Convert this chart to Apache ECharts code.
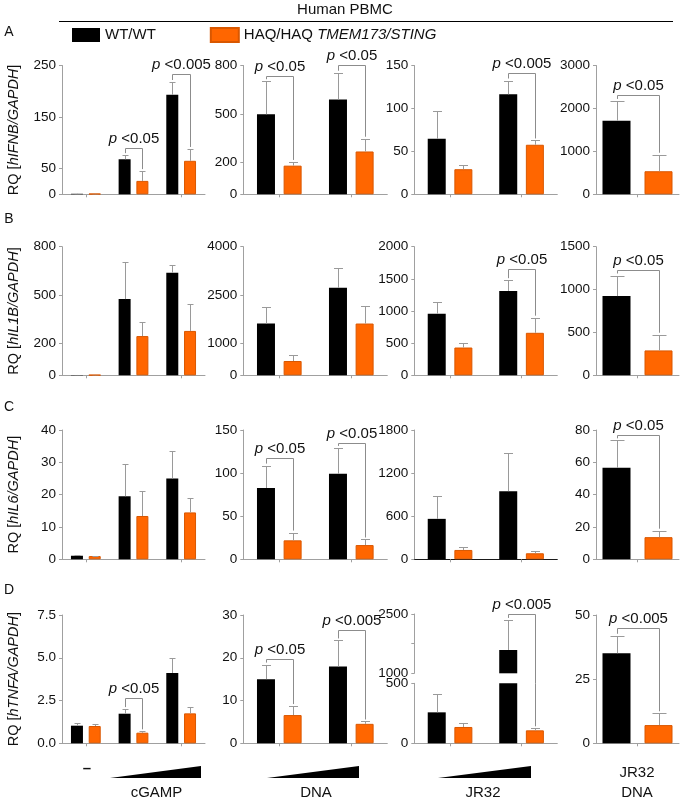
<!DOCTYPE html>
<html><head><meta charset="utf-8">
<script src="https://cdn.jsdelivr.net/npm/echarts@6/dist/echarts.min.js"></script>
<style>html,body{margin:0;padding:0;background:#fff}#c{width:682px;height:800px}</style>
</head><body><div id="c"></div>
<script>
// ================= DATA =================
const seriesNames = ['WT/WT', 'HAQ/HAQ TMEM173/STING'];
const catsCGAMP = ['–', 'cGAMP low', 'cGAMP high'];
const catsDNA = ['DNA low', 'DNA high'];
const catsJR32 = ['JR32 low', 'JR32 high'];
const catsJR32DNA = ['JR32 DNA'];
const rowGenes = ['hIFNB', 'hIL1B', 'hIL6', 'hTNFA'];
const rowLetters = ['A', 'B', 'C', 'D'];
const stimulusLabels = ['cGAMP', 'DNA', 'JR32'];
const comboLabel = ['JR32', 'DNA'];

// Row A – hIFNB
const A1wt = [1, 68, 193], A1wtE = [0.4, 8, 25], A1haq = [1, 26, 65], A1haqE = [0.4, 19, 23];
const A1sig = [[1, 89, '<0.05'], [2, 234, '<0.005']];
const A1ticks = [0, 50, 150, 250];
const A2wt = [497, 589], A2wtE = [205, 166], A2haq = [178, 266], A2haqE = [23, 79];
const A2sig = [[0, 734, '<0.05'], [1, 806, '<0.05']];
const A2ticks = [0, 200, 500, 800];
const A3wt = [64.6, 116.5], A3wtE = [32, 16], A3haq = [29.2, 57.7], A3haqE = [5.5, 5];
const A3sig = [[1, 141, '<0.005']];
const A3ticks = [0, 50, 100, 150];
const A4wt = [1715], A4wtE = [460], A4haq = [537], A4haqE = [384];
const A4sig = [[0, 2305, '<0.05']];
const A4ticks = [0, 1000, 2000, 3000];

// Row B – hIL1B
const B1wt = [2, 474, 638], B1wtE = [0, 229, 46], B1haq = [2, 244, 276], B1haqE = [0, 86, 165];
const B1sig = [];
const B1ticks = [0, 200, 500, 800];
const B2wt = [1610, 2720], B2wtE = [500, 630], B2haq = [445, 1610], B2haqE = [186, 550];
const B2sig = [];
const B2ticks = [0, 1000, 2500, 4000];
const B3wt = [958, 1312], B3wtE = [177, 167], B3haq = [432, 661], B3haqE = [78, 235];
const B3sig = [[1, 1656, '<0.05']];
const B3ticks = [0, 500, 1000, 1500, 2000];
const B4wt = [924], B4wtE = [240], B4haq = [290], B4haqE = [183];
const B4sig = [[0, 1233, '<0.05']];
const B4ticks = [0, 500, 1000, 1500];

// Row C – hIL6
const C1wt = [1.1, 19.5, 25.0], C1wtE = [0.15, 10, 8.4], C1haq = [1.0, 13.4, 14.5], C1haqE = [0.15, 7.8, 4.4];
const C1sig = [];
const C1ticks = [0, 10, 20, 30, 40];
const C2wt = [82.7, 99.2], C2wtE = [26, 30], C2haq = [22, 16.5], C2haqE = [9, 6.5];
const C2sig = [[0, 118, '<0.05'], [1, 135, '<0.05']];
const C2ticks = [0, 50, 100, 150];
const C3wt = [563, 949], C3wtE = [316, 535], C3haq = [130, 84], C3haqE = [47, 28];
const C3sig = [];
const C3ticks = [0, 600, 1200, 1800];
const C4wt = [56.6], C4wtE = [17], C4haq = [13.7], C4haqE = [4];
const C4sig = [[0, 76.8, '<0.05']];
const C4ticks = [0, 20, 40, 60, 80];

// Row D – hTNFA
const D1wt = [1.03, 1.73, 4.11], D1wtE = [0.14, 0.27, 0.88], D1haq = [1.01, 0.62, 1.75], D1haqE = [0.1, 0.08, 0.35];
const D1sig = [[1, 2.67, '<0.05']];
const D1ticks = [0, 2.5, 5, 7.5];
const D2wt = [15.0, 17.95], D2wtE = [3.4, 6.1], D2haq = [6.6, 4.55], D2haqE = [2.1, 0.55];
const D2sig = [[0, 19.8, '<0.05'], [1, 26.4, '<0.005']];
const D2ticks = [0, 10, 20, 30];
const D3wt = [258, 1590], D3wtE = [155, 760], D3haq = [136, 108], D3haqE = [33, 17];
const D3sig = [[1, 2510, '<0.005']];
const D3lowTicks = [0, 500];
const D3upTicks = [1000, 1750, 2500];
const D3upLabels = [1000, 2500];
const D4wt = [35.1], D4wtE = [6.8], D4haq = [7.1], D4haqE = [4.6];
const D4sig = [[0, 44.8, '<0.005']];
const D4ticks = [0, 25, 50];

// ================= LAYOUT / STYLE =================
const F = '"Liberation Sans", Arial, Helvetica, sans-serif';
const ORANGE = '#ff6600', ORANGE_B = '#d95700';
const AX = '#a0a0a0', ERR = '#9a9a9a', BR = '#8c8c8c', TXT = '#111';
const ROW_TOP = [65.5, 246.7, 430, 615];
const ROW_H = [128.8, 128.6, 129.3, 128.3];
const COL_LEFT = [62, 243.3, 414.3, 596];
const COL_W = [143, 144, 143, 83];
const BAR_W = [12, 18, 18, 28];
const BAR_GAP = [0.48, 0.48, 0.48, 0.5];
const BREAK_GAP = 10;
const UP_H = 59.3, LOW_H = 60;

function P(r, c, cats, wt, wtE, haq, haqE, sig, ticks, extra) {
  return Object.assign({ r, c, cats, wt, wtE, haq, haqE, sig, ticks }, extra || {});
}
const panels = [
  P(0, 0, catsCGAMP, A1wt, A1wtE, A1haq, A1haqE, A1sig, A1ticks),
  P(0, 1, catsDNA, A2wt, A2wtE, A2haq, A2haqE, A2sig, A2ticks),
  P(0, 2, catsJR32, A3wt, A3wtE, A3haq, A3haqE, A3sig, A3ticks),
  P(0, 3, catsJR32DNA, A4wt, A4wtE, A4haq, A4haqE, A4sig, A4ticks),
  P(1, 0, catsCGAMP, B1wt, B1wtE, B1haq, B1haqE, B1sig, B1ticks),
  P(1, 1, catsDNA, B2wt, B2wtE, B2haq, B2haqE, B2sig, B2ticks),
  P(1, 2, catsJR32, B3wt, B3wtE, B3haq, B3haqE, B3sig, B3ticks),
  P(1, 3, catsJR32DNA, B4wt, B4wtE, B4haq, B4haqE, B4sig, B4ticks),
  P(2, 0, catsCGAMP, C1wt, C1wtE, C1haq, C1haqE, C1sig, C1ticks),
  P(2, 1, catsDNA, C2wt, C2wtE, C2haq, C2haqE, C2sig, C2ticks),
  P(2, 2, catsJR32, C3wt, C3wtE, C3haq, C3haqE, C3sig, C3ticks, { darkX: true }),
  P(2, 3, catsJR32DNA, C4wt, C4wtE, C4haq, C4haqE, C4sig, C4ticks),
  P(3, 0, catsCGAMP, D1wt, D1wtE, D1haq, D1haqE, D1sig, D1ticks, { fmt: v => v.toFixed(1) }),
  P(3, 1, catsDNA, D2wt, D2wtE, D2haq, D2haqE, D2sig, D2ticks),
  P(3, 2, catsJR32, D3wt, D3wtE, D3haq, D3haqE, D3sig, D3upTicks, { part: 'upper', labels: D3upLabels }),
  P(3, 2, catsJR32, D3wt, D3wtE, D3haq, D3haqE, D3sig, D3lowTicks, { part: 'lower' }),
  P(3, 3, catsJR32DNA, D4wt, D4wtE, D4haq, D4haqE, D4sig, D4ticks)
];

function lineEl(x1, y1, x2, y2, color) {
  return { type: 'line', shape: { x1, y1, x2, y2 }, style: { stroke: color, lineWidth: 1 } };
}
const crisp = v => Math.round(v) + 0.5;

function errRender(p) {
  const off = BAR_W[p.c] * (1 + BAR_GAP[p.c]) / 2, cap = BAR_W[p.c] / 2;
  return function (params, api) {
    const cat = api.value(0), m = api.value(1), e = api.value(2), side = api.value(3);
    const x = crisp(api.coord([cat, m])[0] + (side ? off : -off));
    const y1 = api.coord([cat, m])[1], y2 = crisp(api.coord([cat, m + e])[1]);
    return { type: 'group', children: [
      lineEl(x, y1, x, y2, ERR),
      lineEl(x - cap / 2, y2, x + cap / 2, y2, ERR)
    ] };
  };
}

function sigRender(p) {
  const off = BAR_W[p.c] * (1 + BAR_GAP[p.c]) / 2;
  const minV = p.ticks[0], maxV = p.ticks[p.ticks.length - 1];
  return function (params, api) {
    const cat = api.value(0), lev = api.value(1), lEnd = api.value(2), rEnd = api.value(3);
    const c = api.coord([cat, lev]);
    const xl = crisp(c[0] - off), xr = crisp(c[0] + off), yl = crisp(c[1]);
    const endY = v => api.coord([cat, v])[1] - 2;
    const ch = [];
    if (p.part === 'lower') {
      const topY = api.coord([cat, maxV])[1];
      [[xl, lEnd], [xr, rEnd]].forEach(([x, v]) => { if (v < maxV) ch.push(lineEl(x, topY, x, endY(v), BR)); });
      return { type: 'group', children: ch };
    }
    const legEnd = v => (p.part === 'upper' && v < minV) ? api.coord([cat, minV])[1] + BREAK_GAP : endY(v);
    ch.push(lineEl(xl, yl, xr, yl, BR), lineEl(xl, yl, xl, legEnd(lEnd), BR), lineEl(xr, yl, xr, legEnd(rEnd), BR));
    const lab = p.sig[params.dataIndex][2];
    ch.push({ type: 'text', x: (xl + xr) / 2, y: yl - 2, style: {
      text: '{i|p}{n| ' + lab + '}', align: 'center', verticalAlign: 'bottom',
      fontSize: 15, fontFamily: F, fill: TXT,
      rich: { i: { fontStyle: 'italic', fontSize: 15, fontFamily: F, fill: TXT }, n: { fontSize: 15, fontFamily: F, fill: TXT } }
    } });
    return { type: 'group', children: ch };
  };
}

const grid = [], xAxis = [], yAxis = [], series = [];
panels.forEach((p, i) => {
  let top = ROW_TOP[p.r], h = ROW_H[p.r];
  if (p.part === 'upper') { top = ROW_TOP[3] - 1; h = UP_H; }
  if (p.part === 'lower') { top = ROW_TOP[3] + ROW_H[3] - LOW_H; h = LOW_H; }
  grid.push({ left: COL_LEFT[p.c], top, width: COL_W[p.c], height: h, containLabel: false, outerBoundsMode: 'none' });
  xAxis.push({
    type: 'category', gridIndex: i, data: p.cats, show: p.part !== 'upper',
    axisLine: { show: true, lineStyle: { color: p.darkX ? '#1a1a1a' : AX, width: 1 } },
    axisTick: { show: true, alignWithLabel: true, length: 3, lineStyle: { color: AX } },
    axisLabel: { show: false }, splitLine: { show: false }
  });
  yAxis.push({
    type: 'value', gridIndex: i, min: p.ticks[0], max: p.ticks[p.ticks.length - 1],
    axisLine: { show: true, lineStyle: { color: AX, width: 1 } },
    axisTick: { show: true, length: 3, customValues: p.ticks, lineStyle: { color: AX } },
    axisLabel: { show: true, customValues: p.labels || p.ticks, fontSize: 13.5, fontFamily: F, color: TXT, margin: 6,
      formatter: p.fmt || (v => String(v)) },
    splitLine: { show: false }
  });
  const common = { xAxisIndex: i, yAxisIndex: i, silent: true, animation: false };
  series.push(Object.assign({ type: 'bar', name: seriesNames[0], data: p.wt, barWidth: BAR_W[p.c],
    barGap: (BAR_GAP[p.c] * 100) + '%', itemStyle: { color: '#000' }, z: 2 }, common));
  series.push(Object.assign({ type: 'bar', name: seriesNames[1], data: p.haq, barWidth: BAR_W[p.c],
    barGap: (BAR_GAP[p.c] * 100) + '%', itemStyle: { color: ORANGE, borderColor: ORANGE_B, borderWidth: 1 }, z: 2 }, common));
  const errData = [];
  p.wt.forEach((v, k) => errData.push([k, v, p.wtE[k], 0]));
  p.haq.forEach((v, k) => errData.push([k, v, p.haqE[k], 1]));
  series.push(Object.assign({ type: 'custom', data: errData, clip: true, renderItem: errRender(p), z: 3 }, common));
  if (p.sig.length) {
    series.push(Object.assign({ type: 'custom', clip: false, z: 4,
      data: p.sig.map(s => [s[0], s[1], p.wt[s[0]] + p.wtE[s[0]], p.haq[s[0]] + p.haqE[s[0]]]),
      renderItem: sigRender(p) }, common));
  }
});

// ================= ANNOTATIONS =================
const txt = (x, y, text, extra) => ({ type: 'text', x, y, silent: true, style: Object.assign({
  text, fontSize: 15, fontFamily: F, fill: TXT, align: 'center', verticalAlign: 'middle' }, extra || {}) });
const graphic = [];
graphic.push(txt(345, 10, 'Human PBMC'));
graphic.push({ type: 'line', silent: true, shape: { x1: 59, y1: 21.5, x2: 673, y2: 21.5 }, style: { stroke: '#000', lineWidth: 1 } });
const letterY = [32, 219, 407, 590];
rowLetters.forEach((L, r) => graphic.push(txt(9, letterY[r], L, { fontSize: 14 })));
rowGenes.forEach((g, r) => {
  graphic.push({ type: 'text', x: 14, y: ROW_TOP[r] + ROW_H[r] / 2, rotation: Math.PI / 2, silent: true, style: {
    text: '{n|RQ [}{i|' + g + '/GAPDH}{n|]}', align: 'center', verticalAlign: 'middle', fontSize: 14.5, fontFamily: F, fill: TXT,
    rich: { n: { fontSize: 14.5, fontFamily: F, fill: TXT }, i: { fontSize: 14.5, fontFamily: F, fill: TXT, fontStyle: 'italic' } } } });
});
// dose wedges under the three titration panels
const wedges = [[110, 201], [267, 359], [438, 531]];
wedges.forEach(([x1, x2]) => graphic.push({ type: 'polygon', silent: true,
  shape: { points: [[x1, 778], [x2, 778], [x2, 766]] }, style: { fill: '#000' } }));
graphic.push(txt(87, 769, '–', { fontWeight: 'bold' }));
const stimX = [156.5, 316, 483];
stimulusLabels.forEach((s, k) => graphic.push(txt(stimX[k], 793, s)));
graphic.push(txt(637, 773, comboLabel[0]));
graphic.push(txt(637, 793, comboLabel[1]));

const chart = echarts.init(document.getElementById('c'), null, { renderer: 'canvas' });
chart.setOption({
  animation: false,
  backgroundColor: '#fff',
  textStyle: { fontFamily: F },
  legend: {
    data: seriesNames, left: 72, top: 27, padding: 0, itemWidth: 28, itemHeight: 14, itemGap: 54, icon: 'rect',
    selectedMode: false,
    textStyle: { fontSize: 15, fontFamily: F, color: TXT,
      rich: { r: { fontSize: 15, fontFamily: F, color: TXT }, i: { fontSize: 15, fontFamily: F, color: TXT, fontStyle: 'italic' } } },
    formatter: n => n === 'WT/WT' ? '{r|WT/WT}' : '{r|HAQ/HAQ }{i|TMEM173/STING}'
  },
  grid, xAxis, yAxis, series, graphic
});
</script></body></html>
